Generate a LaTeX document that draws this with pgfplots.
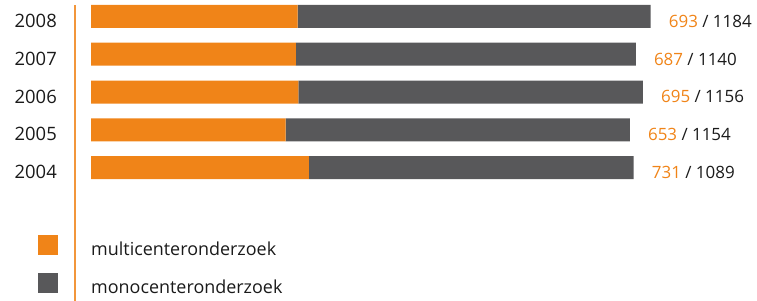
\documentclass[border=0pt]{standalone}
\usepackage{pgfplots}
\pgfplotsset{compat=1.18}
\usepackage{pgfplotstable}
\usepackage{fontspec}
\setmainfont{Open Sans}
\definecolor{lorange}{HTML}{F08418}
\definecolor{lgray}{HTML}{58585A}
\definecolor{ltext}{HTML}{1A1A1A}
\pgfplotstableread{
y multi mono
0 731 1089
1 653 1154
2 695 1156
3 687 1140
4 693 1184
}\data
\pgfplotstableread{
y total label
0 1820 {\textcolor{lorange}{731}\ /\ 1089}
1 1807 {\textcolor{lorange}{653}\ /\ 1154}
2 1851 {\textcolor{lorange}{695}\ /\ 1156}
3 1827 {\textcolor{lorange}{687}\ /\ 1140}
4 1877 {\textcolor{lorange}{693}\ /\ 1184}
}\labels
\newcommand{\yfont}{\fontsize{18.5}{21}\selectfont}
\newcommand{\rfont}{\fontsize{17}{20}\selectfont}
\newcommand{\lfont}{\fontsize{18}{20}\selectfont}
\pgfplotsset{common/.style={
  scale only axis, width=682bp, height=301bp,
  xmin=-53.66, xmax=2233.4, ymin=-3.536, ymax=4.437, clip=false}}
\begin{document}
\begin{tikzpicture}
\begin{axis}[common,
  xbar stacked, bar width=23bp,
  axis line style={draw=none},
  xtick=\empty,
  ytick={0,1,2,3,4}, yticklabels={2004,2005,2006,2007,2008},
  ytick style={draw=none}, major tick length=0pt,
  yticklabel style={anchor=base east, inner sep=0pt, xshift=-18bp, yshift=-11bp, text=ltext, font=\yfont},
  legend style={at={(-0.05425,0.21927)}, anchor=north west, draw=none, fill=none, inner sep=0pt, row sep=18bp, column sep=0pt,
    nodes={inner sep=0pt, text depth=0pt, anchor=base west, text=ltext, font=\lfont}, cells={anchor=base west}},
  legend image code/.code={\fill[#1] (0bp,0bp) rectangle (20bp,20bp); \path (53bp,0bp);},
]
\addplot[fill=lorange, draw=none] table[x=multi, y=y] {\data};
\addplot[fill=lgray, draw=none] table[x=mono, y=y] {\data};
\legend{multicenteronderzoek, monocenteronderzoek}
\draw[lorange!85, line width=1.2bp] (axis cs:-53.66,-3.536) -- (axis cs:-53.66,4.305);
\coordinate (bl) at (rel axis cs:0,0);
\coordinate (tr) at (rel axis cs:1,1);
\end{axis}
\begin{axis}[common, hide axis,
  nodes near coords, point meta=explicit symbolic,
  every node near coord/.append style={anchor=base west, inner sep=0pt, xshift=18bp, yshift=-11bp, text=ltext, font=\rfont}]
\addplot[only marks, mark=none] table[x=total, y=y, meta=label] {\labels};
\end{axis}
\pgfresetboundingbox
\path[use as bounding box] ([xshift=-75bp]bl) rectangle (tr);
\end{tikzpicture}
\end{document}
